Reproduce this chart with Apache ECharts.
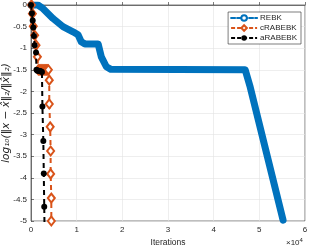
<!DOCTYPE html>
<html><head><meta charset="utf-8">
<script src="https://cdn.jsdelivr.net/npm/echarts@6/dist/echarts.min.js"></script>
<style>html,body{margin:0;padding:0;background:#fff}#c{width:309px;height:249px}</style>
</head><body><div id="c"></div>
<script>
// Iteration counts and log10 relative errors
const xTicks = [0, 1, 2, 3, 4, 5, 6]; // ×10^4
const rebkX = [0, 1500, 2600, 4800, 7000, 9200, 10300, 11000, 11800, 14700, 15400, 16500, 17500, 46900, 48000, 55200];
const rebkY = [0, 0, -0.08, -0.31, -0.5, -0.62, -0.69, -0.85, -0.9, -0.9, -1.2, -1.43, -1.49, -1.5, -1.9, -4.98];
const crX = [100, 300, 500, 800, 1100, 1400, 1600, 1800, 2000, 2200, 2400, 2600, 2800, 3000, 3200, 3400, 3600, 3800, 4000, 4000, 4200, 4300, 4300, 4450, 4450];
const crY = [0, -0.2, -0.49, -0.7, -0.93, -1.2, -1.5, -1.5, -1.5, -1.5, -1.5, -1.5, -1.5, -1.5, -1.5, -1.5, -1.5, -1.5, -1.74, -2.29, -2.82, -3.38, -3.91, -4.47, -5.0];
const arX = [0, 200, 370, 500, 650, 800, 1100, 1200, 1400, 1600, 1800, 2000, 2200, 2400, 2500, 2700, 2800, 2900, 3000];
const arY = [0, -0.19, -0.36, -0.52, -0.72, -0.93, -1.1, -1.5, -1.52, -1.52, -1.53, -1.53, -1.54, -1.55, -2.35, -3.15, -3.9, -4.67, -5.45];

const zip = (a, b) => a.map((v, i) => [v, b[i]]);
const txt = '#262626';
const font = 'Liberation Sans, Arial, sans-serif';
const chart = echarts.init(document.getElementById('c'), null, {renderer: 'canvas'});
chart.setOption({
  animation: false,
  grid: {left: 31, right: 4, top: 5, bottom: 28, containLabel: false, outerBoundsMode: 'none', show: true, borderColor: txt, borderWidth: 0.6, backgroundColor: '#fff'},
  xAxis: {
    type: 'value', min: 0, max: 60000, interval: 10000,
    name: 'Iterations', nameLocation: 'middle', nameGap: 17, nameMoveOverlap: false,
    nameTextStyle: {color: txt, fontSize: 8.5, fontFamily: font},
    axisLine: {lineStyle: {color: txt, width: 0.6}},
    axisTick: {inside: true, length: 3, lineStyle: {color: txt, width: 0.6}},
    axisLabel: {color: txt, fontSize: 8, fontFamily: font, margin: 5, formatter: v => String(xTicks[Math.round(v / 10000)])},
    splitLine: {lineStyle: {color: '#e3e3e3', width: 0.6}}
  },
  yAxis: {
    type: 'value', min: -5, max: 0, interval: 0.5,
    name: 'log₁₀(‖x − x̂‖₂/‖x̂‖₂)', nameLocation: 'middle', nameGap: 19, nameRotate: 90, nameMoveOverlap: false,
    nameTextStyle: {color: txt, fontSize: 10.5, fontStyle: 'italic', fontFamily: 'DejaVu Sans, sans-serif'},
    axisLine: {lineStyle: {color: txt, width: 0.6}},
    axisTick: {inside: true, length: 3, lineStyle: {color: txt, width: 0.6}},
    axisLabel: {color: txt, fontSize: 8, fontFamily: font, margin: 4},
    splitLine: {lineStyle: {color: '#e3e3e3', width: 0.6}}
  },
  legend: {
    orient: 'vertical', right: 8, top: 12, padding: [2, 4, 2, 2], itemGap: 2,
    itemWidth: 26, itemHeight: 7,
    backgroundColor: '#fff', borderColor: txt, borderWidth: 0.6, borderRadius: 0,
    textStyle: {color: txt, fontSize: 8, fontFamily: font, padding: [0, 0, 0, -2]},
    data: [
      {name: 'REBK', lineStyle: {type: [4, 2], width: 2, color: '#0072BD'}, itemStyle: {color: '#fff', borderColor: '#0072BD', borderWidth: 2}},
      {name: 'cRABEBK', lineStyle: {type: [4, 2], width: 2, color: '#D95319'}, itemStyle: {color: '#fff', borderColor: '#D95319', borderWidth: 2}},
      {name: 'aRABEBK', lineStyle: {type: [4, 2], width: 2, color: '#000'}, itemStyle: {color: '#000'}}
    ]
  },
  graphic: [{
    type: 'text', left: 286, top: 237,
    style: {text: '{a|×10}{b|4}', rich: {a: {fontSize: 8, fill: txt, fontFamily: font, padding: [5, 0, 0, 0]}, b: {fontSize: 6, fill: txt, fontFamily: font}}}
  }],
  series: [
    {name: 'REBK', type: 'line', data: zip(rebkX, rebkY), symbol: 'circle', symbolSize: 6, showSymbol: false, color: '#0072BD',
      lineStyle: {width: 7, color: '#0072BD', cap: 'round', join: 'round'}, clip: true, z: 2},
    {name: 'cRABEBK', type: 'line', data: zip(crX, crY), symbol: 'diamond', symbolSize: [7, 9], color: '#D95319',
      itemStyle: {color: '#fff', borderColor: '#D95319', borderWidth: 2},
      lineStyle: {width: 2, type: [5, 4], color: '#D95319'}, clip: true, z: 3},
    {name: 'aRABEBK', type: 'line', data: zip(arX, arY), symbol: 'circle', symbolSize: 6, color: '#000',
      itemStyle: {color: '#000', borderColor: '#000', borderWidth: 0},
      lineStyle: {width: 2, type: [5, 4], color: '#000'}, clip: true, z: 4}
  ]
});
</script></body></html>
